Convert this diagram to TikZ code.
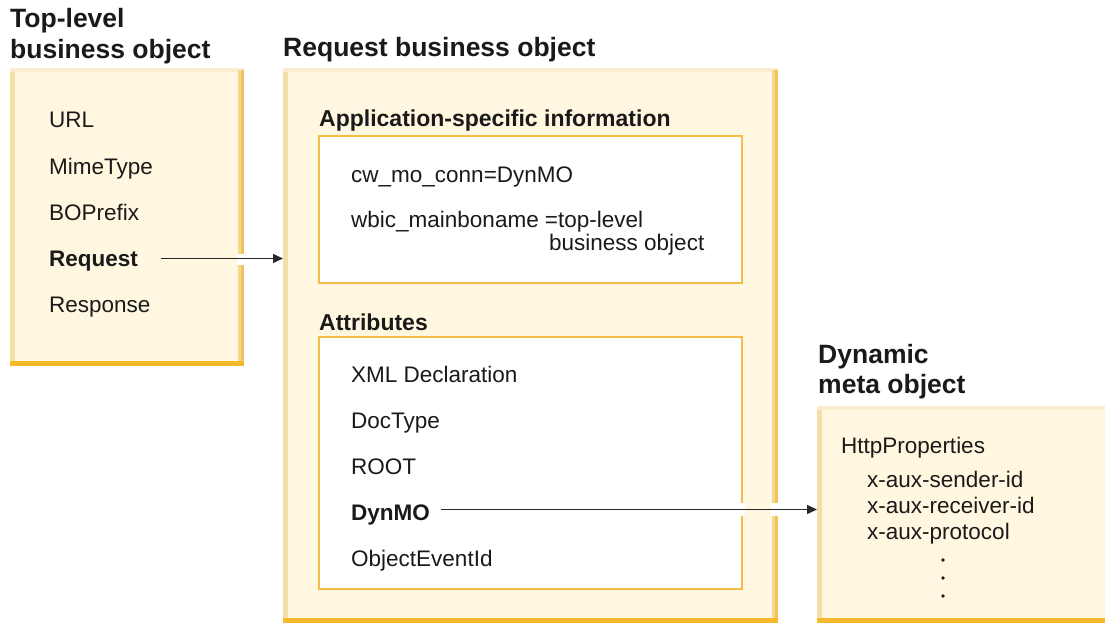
\documentclass[tikz,border=0pt]{standalone}
\usepackage{fontspec}
\setmainfont{Liberation Sans}
\usetikzlibrary{arrows.meta,fit}

\definecolor{cream}{RGB}{255,247,224}
\definecolor{edgeleft}{RGB}{245,222,168}
\definecolor{edgetop}{RGB}{250,236,206}
\definecolor{edgeright}{RGB}{240,196,92}
\definecolor{edgerightin}{RGB}{246,216,140}
\definecolor{edgebottom}{RGB}{247,184,42}
\definecolor{innerline}{RGB}{245,188,72}
\definecolor{ink}{RGB}{26,26,26}
\definecolor{arrowink}{RGB}{40,40,40}

% shaded frame around a panel: light left/top, darker right/bottom
\newcommand\panelframe[4]{%
  \fill[edgeleft] (#1,#2) rectangle ({#1+5},#4);
  \fill[edgetop] (#1,#2) rectangle (#3,{#2+4});
  \fill[edgeright] ({#3-6},{#2+2}) rectangle (#3,#4);
  \fill[edgerightin] ({#3-6},{#2+2}) rectangle ({#3-3},#4);
  \fill[edgebottom] (#1,{#4-5}) rectangle (#3,#4);
}

\tikzset{
  panel/.style={inner sep=0pt, outer sep=0pt, fill=cream},
  inbox/.style={inner sep=0pt, outer sep=0pt, fill=white, draw=innerline, line width=1.5pt},
  title/.style={font=\fontsize{26.5}{30}\selectfont\bfseries, text=ink, anchor=base west, inner sep=0pt},
  head/.style={font=\fontsize{23}{26}\selectfont\bfseries, text=ink, anchor=base west, inner sep=0pt},
  item/.style={font=\fontsize{22.5}{26}\selectfont, text=ink, anchor=base west, inner sep=0pt},
  bolditem/.style={item, font=\fontsize{22.5}{26}\selectfont\bfseries},
  link/.style={draw=arrowink, line width=1.5pt, -{Triangle[length=10pt,width=9pt]}},
  dot/.style={circle, fill=ink, inner sep=0pt, minimum size=3.6pt},
}

\begin{document}
\begin{tikzpicture}[x=1pt,y=-1pt]
\useasboundingbox (0,0) rectangle (1105,623);
\clip (0,0) rectangle (1105,623);

% ---------------- panels ----------------
\node[panel, fit={(10,68) (244,366)}] (topbox) {};
\panelframe{10}{68}{244}{366}
\node[panel, fit={(283,68) (778,623)}] (reqbox) {};
\panelframe{283}{68}{778}{623}
\node[panel, fit={(817,406) (1115,623)}] (dynbox) {};
\panelframe{817}{406}{1115}{623}

\node[inbox, fit={(319,136) (742,283)}] (appbox) {};
\node[inbox, fit={(319,337) (742,589)}] (attrbox) {};

% ---------------- titles ----------------
\node[title] (toptitleA) at (10,28) {Top-level};
\node[title] (toptitleB) at (10,59) {business object};
\node[title] (reqtitle) at (283,57) {Request business object};
\node[title] (dyntitleA) at (818,363) {Dynamic};
\node[title] (dyntitleB) at (818,393) {meta object};

% ---------------- top-level business object ----------------
\node[item] (url) at (49,128) {URL};
\node[item] (mime) at (49,174) {MimeType};
\node[item] (boprefix) at (49,220) {BOPrefix};
\node[bolditem] (request) at (49,266) {Request};
\node[item] (response) at (49,312) {Response};

% ---------------- request business object ----------------
\node[head] (apphead) at (319,127) {Application-specific information};
\node[item] (conn) at (351,182) {cw\_mo\_conn=DynMO};
\node[item] (mainbo) at (351,227) {wbic\_mainboname =top-level};
\node[item] (mainboB) at (549,250) {business object};

\node[head] (attrhead) at (319,330) {Attributes};
\node[item] (xmldecl) at (351,382) {XML Declaration};
\node[item] (doctype) at (351,428) {DocType};
\node[item] (root) at (351,474) {ROOT};
\node[bolditem] (dynmo) at (351,520) {DynMO};
\node[item] (eventid) at (351,566) {ObjectEventId};

% ---------------- dynamic meta object ----------------
\node[item] (http) at (841,453) {HttpProperties};
\node[item] (sender) at (867,487) {x-aux-sender-id};
\node[item] (receiver) at (867,513) {x-aux-receiver-id};
\node[item] (protocol) at (867,539) {x-aux-protocol};
\node[dot] (dotA) at (943,560) {};
\node[dot] (dotB) at (943,578) {};
\node[dot] (dotC) at (943,596) {};

% ---------------- connectors ----------------
% white gaps where the connectors cross the frames
\fill[white] (237,254) rectangle (245,265);
\fill[white] (740,503) rectangle (745,516);
\fill[white] (771,503) rectangle (779,516);

\coordinate (reqfrom) at ([xshift=23pt,yshift=7.5pt]request.base east);
\draw[link] (reqfrom) -- (reqfrom -| reqbox.west);

\coordinate (dynfrom) at ([xshift=11pt,yshift=10.5pt]dynmo.base east);
\draw[link] (dynfrom) -- (dynfrom -| dynbox.west);
\end{tikzpicture}
\end{document}
